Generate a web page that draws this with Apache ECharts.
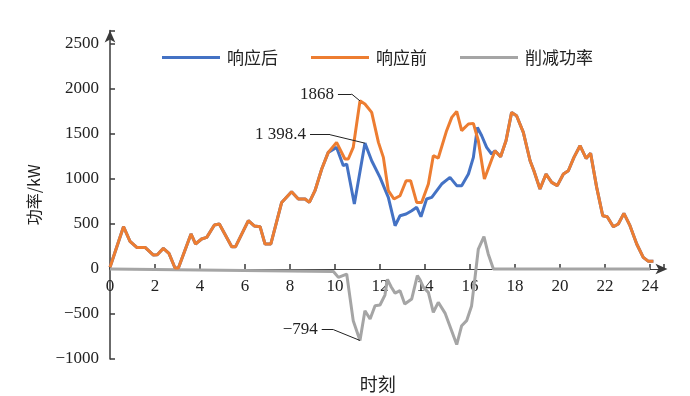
<!DOCTYPE html>
<html>
<head>
<meta charset="utf-8">
<script src="https://cdn.jsdelivr.net/npm/echarts@6/dist/echarts.min.js"></script>
<style>html,body{margin:0;padding:0;background:#fff;}#c{width:690px;height:396px;}</style>
</head>
<body>
<div id="c"></div>
<script>
// ---- data (hours, kW) ----
var seriesNames = ['响应后', '响应前', '削减功率'];
var xTicks = [0, 2, 4, 6, 8, 10, 12, 14, 16, 18, 20, 22, 24];
var yTicks = [-1000, -500, 0, 500, 1000, 1500, 2000, 2500];

// 响应前 (before response)
var beforeT = [0, 0.6, 0.89, 1.19, 1.56, 1.93, 2.1, 2.37, 2.62, 2.89, 3.04, 3.6, 3.8, 4.07, 4.3, 4.64, 4.86, 5.41, 5.58, 6.15, 6.41, 6.67, 6.89, 7.15, 7.63, 8.07, 8.37, 8.67, 8.86, 9.11, 9.41, 9.7, 10.07, 10.44, 10.59, 10.81, 11.11, 11.33, 11.63, 11.93, 12.15, 12.37, 12.62, 12.89, 13.16, 13.36, 13.63, 13.85, 14.15, 14.37, 14.59, 14.96, 15.19, 15.41, 15.63, 15.93, 16.15, 16.37, 16.64, 16.89, 17.11, 17.36, 17.6, 17.85, 18.07, 18.37, 18.67, 18.84, 19.11, 19.38, 19.63, 19.88, 20.15, 20.37, 20.62, 20.89, 21.16, 21.36, 21.63, 21.9, 22.1, 22.37, 22.59, 22.84, 23.11, 23.41, 23.7, 23.93, 24.15];
var beforeV = [20, 470, 307, 240, 240, 155, 159, 229, 173, 11, 11, 389, 278, 333, 351, 489, 500, 248, 248, 537, 478, 470, 278, 278, 740, 859, 778, 778, 740, 870, 1111, 1296, 1407, 1222, 1222, 1351, 1868, 1833, 1740, 1407, 1240, 870, 778, 814, 981, 981, 740, 740, 944, 1259, 1233, 1537, 1685, 1751, 1537, 1611, 1618, 1425, 1000, 1167, 1314, 1248, 1425, 1740, 1703, 1518, 1203, 1092, 889, 1055, 962, 926, 1055, 1092, 1240, 1370, 1229, 1285, 907, 592, 581, 470, 500, 618, 481, 278, 129, 85, 85];

// 响应后 (after response): differs from 响应前 between about 10 h and 17 h
var afterMidT = [10.07, 10.37, 10.52, 10.86, 11.33, 11.63, 12.0, 12.37, 12.67, 12.89, 13.16, 13.41, 13.63, 13.82, 14.07, 14.3, 14.74, 15.11, 15.41, 15.63, 15.93, 16.15, 16.33, 16.52, 16.74, 16.96];
var afterMidV = [1351, 1148, 1167, 722, 1398.4, 1203, 1018, 796, 481, 592, 611, 648, 685, 581, 778, 796, 944, 1018, 926, 926, 1055, 1240, 1574, 1481, 1351, 1278];

// 削减功率 (reduction)
var cutT = [0, 9.93, 10.15, 10.52, 10.6, 10.81, 11.11, 11.33, 11.56, 11.78, 12.0, 12.22, 12.33, 12.5, 12.67, 12.89, 13.1, 13.41, 13.66, 13.78, 13.93, 14.15, 14.37, 14.59, 14.89, 15.41, 15.63, 15.85, 16.07, 16.22, 16.37, 16.62, 16.81, 17.04, 24];
var cutV = [0, -27, -93, -56, -74, -574, -794, -463, -556, -408, -400, -290, -115, -200, -268, -241, -389, -333, -74, -120, -204, -260, -481, -370, -490, -840, -630, -574, -410, -100, 222, 359, 167, 0, 0];

// annotations: [label, pointT, pointV]
var annBefore = ['1868', 11.11, 1868];
var annAfter = ['1 398.4', 11.33, 1398.4];
var annCut = ['\u2212794', 11.11, -794];

var yMin = -1000, yMax = 2650;

function pairs(t, v) { return t.map(function (x, i) { return [x, v[i]]; }); }
var beforeData = pairs(beforeT, beforeV);
var afterData = [];
beforeData.forEach(function (p) { if (p[0] < 10) afterData.push(p); });
afterData = afterData.concat(pairs(afterMidT, afterMidV));
beforeData.forEach(function (p) { if (p[0] > 17) afterData.push(p); });
var cutData = pairs(cutT, cutV);

var serif = '"Liberation Serif", "Times New Roman", serif';
var cjk = '"Noto Sans CJK SC", sans-serif';
var txt = '#222';
var axisCol = '#3a3a3a';

var gridTop = 30.5, gridBottom = 37, H = 396;
// place the x axis on the zero line: offset from the bottom edge of the grid
var zeroOffset = -(H - gridTop - gridBottom) * (0 - yMin) / (yMax - yMin);

function leader(start, elbow, end, label) {
  var ls = { color: '#222', width: 1, type: 'solid' };
  return [
    [{ coord: start, label: { show: true, formatter: label, position: 'start', distance: 4, color: txt, fontFamily: serif, fontSize: 17 }, lineStyle: ls },
     { coord: elbow }],
    [{ coord: elbow, label: { show: false }, lineStyle: ls }, { coord: end }]
  ];
}

var chart = echarts.init(document.getElementById('c'), null, { renderer: 'canvas' });
chart.setOption({
  animation: false,
  backgroundColor: '#fff',
  grid: { left: 110, right: 26.5, top: gridTop, bottom: gridBottom, containLabel: false, outerBoundsMode: 'none' },
  legend: {
    data: seriesNames,
    left: 157, top: 44,
    itemWidth: 58, itemHeight: 3, itemGap: 33, icon: 'rect',
    textStyle: { fontFamily: cjk, fontSize: 17, color: txt, padding: [0, 0, 0, 2] }
  },
  xAxis: {
    type: 'value', min: 0, max: 24.6, interval: 2, position: 'bottom', offset: zeroOffset, z: 1,
    name: '时刻', nameLocation: 'middle', nameGap: 106,
    nameTextStyle: { fontFamily: cjk, fontSize: 18, color: txt, padding: [0, 18, 0, 0] },
    axisLine: { onZero: false, lineStyle: { color: axisCol, width: 1.2 }, symbol: ['none', 'arrow'], symbolSize: [8, 12], symbolOffset: [0, 4] },
    axisTick: { show: true, inside: true, length: 5, lineStyle: { color: axisCol, width: 1.5 } },
    axisLabel: { fontFamily: serif, fontSize: 17, color: txt, margin: 9,
      formatter: function (v) { return xTicks.indexOf(v) >= 0 ? String(v) : ''; } },
    splitLine: { show: false }
  },
  yAxis: {
    type: 'value', min: yMin, max: yMax, interval: 500, z: 1,
    name: '功率/kW', nameLocation: 'middle', nameGap: 68, nameRotate: 90,
    nameTextStyle: { fontFamily: cjk, fontSize: 16, color: txt },
    axisLine: { show: true, lineStyle: { color: axisCol, width: 1.5 }, symbol: ['none', 'arrow'], symbolSize: [8, 12] },
    axisTick: { show: true, inside: true, length: 5, lineStyle: { color: axisCol, width: 1.5 } },
    axisLabel: { fontFamily: serif, fontSize: 17, color: txt, margin: 11,
      formatter: function (v) { return yTicks.indexOf(v) >= 0 ? String(v).replace('-', '\u2212') : ''; } },
    splitLine: { show: false }
  },
  series: [
    { name: seriesNames[0], type: 'line', data: afterData, showSymbol: false, symbol: 'none',
      lineStyle: { color: '#4472C4', width: 3 }, itemStyle: { color: '#4472C4' }, z: 3,
      markLine: { silent: true, symbol: ['none', 'none'], animation: false,
        data: leader([8.89, 1492], [9.78, 1492], [annAfter[1], annAfter[2]], annAfter[0]) } },
    { name: seriesNames[1], type: 'line', data: beforeData, showSymbol: false, symbol: 'none',
      lineStyle: { color: '#ED7D31', width: 3 }, itemStyle: { color: '#ED7D31' }, z: 4,
      markLine: { silent: true, symbol: ['none', 'none'], animation: false,
        data: leader([10.13, 1944], [10.74, 1944], [annBefore[1], annBefore[2]], annBefore[0]) } },
    { name: seriesNames[2], type: 'line', data: cutData, showSymbol: false, symbol: 'none',
      lineStyle: { color: '#A5A5A5', width: 3 }, itemStyle: { color: '#A5A5A5' }, z: 3,
      markLine: { silent: true, symbol: ['none', 'none'], animation: false,
        data: leader([9.41, -674], [9.93, -674], [annCut[1], annCut[2]], annCut[0]) } }
  ]
});
</script>
</body>
</html>
